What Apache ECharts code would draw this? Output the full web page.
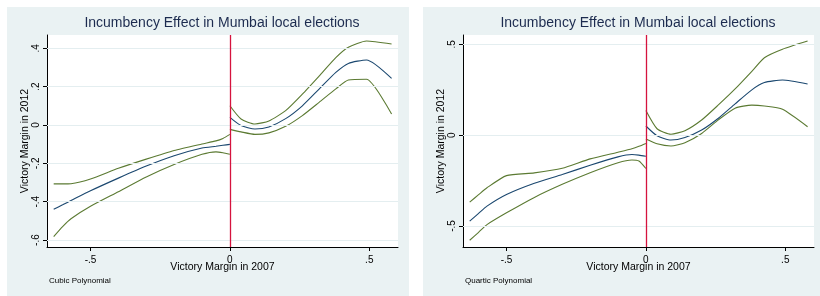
<!DOCTYPE html>
<html>
<head>
<meta charset="utf-8">
<script src="https://cdn.jsdelivr.net/npm/echarts@6/dist/echarts.min.js"></script>
<style>
html, body { margin: 0; padding: 0; background: #fff; }
#chart { width: 820px; height: 296px; }
</style>
</head>
<body>
<div id="chart"></div>
<script>
// x grid where the fits were read, left and right of the cutoff
const xLeft = [-0.632, -0.6, -0.57, -0.5, -0.4, -0.3, -0.2, -0.1, -0.05, -0.025, 0];
const xRight = [0, 0.04, 0.09, 0.14, 0.2, 0.26, 0.32, 0.38, 0.425, 0.49, 0.58];

// cubic polynomial panel
const cubicFitL = [-0.439, -0.416, -0.394, -0.343, -0.277, -0.214, -0.160, -0.120, -0.111, -0.106, -0.101];
const cubicHiL  = [-0.307, -0.307, -0.306, -0.282, -0.226, -0.178, -0.133, -0.099, -0.083, -0.070, -0.049];
const cubicLoL  = [-0.582, -0.530, -0.489, -0.424, -0.348, -0.271, -0.206, -0.153, -0.140, -0.145, -0.153];
const cubicFitR = [0.040, -0.003, -0.021, -0.010, 0.033, 0.100, 0.187, 0.274, 0.321, 0.339, 0.243];
const cubicHiR  = [0.100, 0.031, 0.005, 0.021, 0.075, 0.161, 0.255, 0.351, 0.405, 0.438, 0.422];
const cubicLoR  = [-0.023, -0.036, -0.049, -0.041, -0.007, 0.049, 0.118, 0.188, 0.234, 0.238, 0.057];

// quartic polynomial panel
const quartFitL = [-0.474, -0.431, -0.391, -0.327, -0.265, -0.217, -0.166, -0.120, -0.107, -0.110, -0.116];
const quartHiL  = [-0.369, -0.328, -0.290, -0.223, -0.208, -0.183, -0.131, -0.094, -0.075, -0.062, -0.046];
const quartLoL  = [-0.579, -0.535, -0.493, -0.428, -0.343, -0.271, -0.207, -0.152, -0.137, -0.143, -0.184];
const quartFitR = [0.050, -0.004, -0.027, -0.013, 0.028, 0.093, 0.172, 0.249, 0.289, 0.303, 0.281];
const quartHiR  = [0.135, 0.035, 0.005, 0.024, 0.083, 0.166, 0.254, 0.351, 0.426, 0.473, 0.518];
const quartLoR  = [-0.022, -0.048, -0.060, -0.042, 0.009, 0.084, 0.148, 0.165, 0.160, 0.142, 0.046];

// tick labels
const xTicks = [-0.5, 0, 0.5];
const cubicYTicks = [-0.6, -0.4, -0.2, 0, 0.2, 0.4];
const quartYTicks = [-0.5, 0, 0.5];

const font = 'Liberation Sans, Arial, Helvetica, sans-serif';
const bg = '#eaf2f3';
const gridCol = '#e4eef0';
const navy = '#1a476f';
const green = '#5b7a32';
const red = '#d5133e';

const stata = v => String(v).replace(/^(-?)0\./, '$1.'); // .5 instead of 0.5

const pairs = (xs, ys) => xs.map((x, i) => [x, ys[i]]);

function line(gi, xs, ys, color) {
  return {
    type: 'line',
    xAxisIndex: gi,
    yAxisIndex: gi,
    data: pairs(xs, ys),
    symbol: 'none',
    smooth: 0.2,
    z: 3,
    lineStyle: { color: color, width: 1.1 },
    silent: true,
  };
}

function cutoff(gi, yTicks) {
  // horizontal grid lines at the y ticks, red line at x = 0
  return {
    type: 'line',
    xAxisIndex: gi,
    yAxisIndex: gi,
    data: [],
    z: 2,
    markLine: {
      silent: true,
      symbol: 'none',
      label: { show: false },
      lineStyle: { color: gridCol, width: 1, type: 'solid' },
      data: yTicks.map(v => ({ yAxis: v })).concat([
        { xAxis: 0, lineStyle: { color: red, width: 1.3, type: 'solid' } },
      ]),
    },
  };
}

function xAxis(gi) {
  return {
    type: 'value',
    gridIndex: gi,
    min: -0.656,
    max: 0.603,
    name: 'Victory Margin in 2007',
    nameLocation: 'middle',
    nameGap: 15,
    nameMoveOverlap: false,
    nameTextStyle: { fontFamily: font, fontSize: 10.5, color: '#000' },
    axisLine: { show: true, onZero: false, lineStyle: { color: '#000', width: 1 } },
    axisTick: { show: true, length: 4, customValues: xTicks, lineStyle: { color: '#000' } },
    axisLabel: { customValues: xTicks, formatter: stata, margin: 8, fontFamily: font, fontSize: 10, color: '#000' },
    splitLine: { show: false },
  };
}

function yAxis(gi, min, max, ticks) {
  return {
    type: 'value',
    gridIndex: gi,
    min: min,
    max: max,
    name: 'Victory Margin in 2012',
    nameLocation: 'middle',
    nameGap: 16,
    nameMoveOverlap: false,
    nameTextStyle: { fontFamily: font, fontSize: 10.5, color: '#000' },
    axisLine: { show: true, onZero: false, lineStyle: { color: '#000', width: 1 } },
    axisTick: { show: true, length: 4, customValues: ticks, lineStyle: { color: '#000' } },
    axisLabel: { customValues: ticks, formatter: stata, rotate: 90, margin: 6, fontFamily: font, fontSize: 10, color: '#000' },
    splitLine: { show: false },
  };
}

const titleText = 'Incumbency Effect in Mumbai local elections';

const option = {
  animation: false,
  backgroundColor: '#fff',
  graphic: [
    { type: 'rect', z: -100, silent: true, shape: { x: 7, y: 7, width: 402, height: 289 }, style: { fill: bg } },
    { type: 'rect', z: -100, silent: true, shape: { x: 423, y: 7, width: 397, height: 289 }, style: { fill: bg } },
  ],
  title: [
    { text: titleText, left: 222, top: 16, textAlign: 'center', padding: 0,
      textStyle: { fontFamily: font, fontSize: 14, fontWeight: 'normal', color: '#1c2b4f' } },
    { text: titleText, left: 638, top: 16, textAlign: 'center', padding: 0,
      textStyle: { fontFamily: font, fontSize: 14, fontWeight: 'normal', color: '#1c2b4f' } },
    { text: 'Cubic Polynomial', left: 49, top: 277, padding: 0,
      textStyle: { fontFamily: font, fontSize: 8, fontWeight: 'normal', color: '#000' } },
    { text: 'Quartic Polynomial', left: 465, top: 277, padding: 0,
      textStyle: { fontFamily: font, fontSize: 8, fontWeight: 'normal', color: '#000' } },
  ],
  grid: [
    { left: 47, top: 35, width: 351, height: 212, show: true, backgroundColor: '#fff', borderWidth: 0 },
    { left: 463, top: 35, width: 351, height: 212, show: true, backgroundColor: '#fff', borderWidth: 0 },
  ],
  xAxis: [xAxis(0), xAxis(1)],
  yAxis: [yAxis(0, -0.636, 0.469, cubicYTicks), yAxis(1, -0.616, 0.551, quartYTicks)],
  series: [
    cutoff(0, cubicYTicks),
    line(0, xLeft, cubicHiL, green),
    line(0, xLeft, cubicLoL, green),
    line(0, xLeft, cubicFitL, navy),
    line(0, xRight, cubicHiR, green),
    line(0, xRight, cubicLoR, green),
    line(0, xRight, cubicFitR, navy),
    cutoff(1, quartYTicks),
    line(1, xLeft, quartHiL, green),
    line(1, xLeft, quartLoL, green),
    line(1, xLeft, quartFitL, navy),
    line(1, xRight, quartHiR, green),
    line(1, xRight, quartLoR, green),
    line(1, xRight, quartFitR, navy),
  ],
};

const myChart = echarts.init(document.getElementById('chart'));
myChart.setOption(option);
</script>
</body>
</html>
